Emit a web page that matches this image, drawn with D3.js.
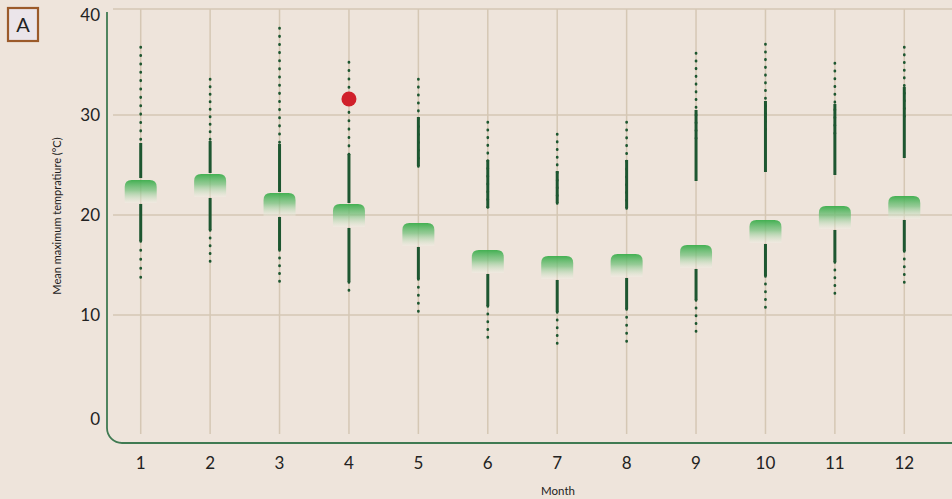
<!DOCTYPE html>
<html>
<head>
<meta charset="utf-8">
<script src="https://cdn.jsdelivr.net/npm/d3@7"></script>
<style>
  html, body { margin: 0; padding: 0; background: #eee4db; }
  svg { display: block; font-family: "Lato", "DejaVu Sans", sans-serif; }
</style>
</head>
<body>
<div id="chart"></div>
<script>
const months = [1, 2, 3, 4, 5, 6, 7, 8, 9, 10, 11, 12];
const yTicks = [0, 10, 20, 30, 40];

// top edge of the mean box for each month
const meanTop = [23.5, 24.1, 22.2, 21.1, 19.2, 16.5, 15.9, 16.1, 17.0, 19.5, 20.9, 21.9];
// upper dotted range
const upperDotTop = [36.8, 33.6, 38.7, 35.3, 33.6, 29.3, 28.1, 29.3, 36.2, 37.1, 35.2, 36.8];
const upperDotBottom = [27.6, 27.6, 27.3, 26.1, 24.9, 20.8, 21.2, 20.7, 27.7, 28.6, 28.2, 29.9];
// upper solid range
const upperSolidTop = [27.2, 27.4, 27.1, 26.1, 29.8, 25.5, 24.4, 25.5, 30.5, 31.4, 31.1, 32.8];
const upperSolidBottom = [23.7, 24.2, 22.3, 21.2, 24.9, 20.7, 21.2, 20.7, 23.4, 24.3, 24.0, 25.7];
// lower solid and dotted ends
const lowerSolidBottom = [17.4, 18.5, 16.5, 13.3, 13.6, 10.9, 10.3, 10.6, 11.5, 13.9, 15.3, 16.4];
const lowerDotBottom = [13.8, 15.4, 13.4, 12.5, 10.4, 7.8, 7.2, 7.4, 8.4, 10.8, 12.2, 13.3];

const highlightMonth = 4;
const highlightValue = 31.6;

const W = 952, H = 499;
const margin = { top: 15, right: 13, bottom: 84, left: 106 };
const boxW = 32, boxH = 23;

const data = months.map((m, i) => ({
  month: m,
  mean: meanTop[i],
  udTop: upperDotTop[i], udBot: upperDotBottom[i],
  usTop: upperSolidTop[i], usBot: upperSolidBottom[i],
  lsBot: lowerSolidBottom[i], ldBot: lowerDotBottom[i]
}));

const svg = d3.select("#chart").append("svg")
  .attr("width", W)
  .attr("height", H);

svg.append("rect").attr("width", W).attr("height", H).attr("fill", "#eee4db");

const x = d3.scaleBand()
  .domain(months)
  .range([margin.left, W - margin.right])
  .padding(0);

const y = d3.scaleLinear()
  .domain([0, 40])
  .range([H - margin.bottom, margin.top]);

const cx = m => x(m) + x.bandwidth() / 2;

// spread dots evenly so both ends get one
const dotDash = (a, b) => {
  const len = Math.abs(y(b) - y(a));
  const n = Math.max(1, Math.round(len / 8));
  const step = len / n;
  return `0.4 ${step - 0.4}`;
};

const defs = svg.append("defs");
const grad = defs.append("linearGradient")
  .attr("id", "boxGrad")
  .attr("x1", 0).attr("y1", 0).attr("x2", 0).attr("y2", 1);
grad.append("stop").attr("offset", "0%").attr("stop-color", "#3aad4b").attr("stop-opacity", 0.95);
grad.append("stop").attr("offset", "45%").attr("stop-color", "#77c27e").attr("stop-opacity", 0.75);
grad.append("stop").attr("offset", "100%").attr("stop-color", "#f3f1e8").attr("stop-opacity", 0.35);

const gridColor = "#d5c7b4";
const axisBottomY = 443;

// horizontal grid
svg.append("g")
  .selectAll("line")
  .data([10, 20, 30])
  .join("line")
  .attr("x1", 113).attr("x2", W)
  .attr("y1", d => y(d)).attr("y2", d => y(d))
  .attr("stroke", gridColor).attr("stroke-width", 1.5);

svg.append("line")
  .attr("x1", 113).attr("x2", W)
  .attr("y1", y(40.6)).attr("y2", y(40.6))
  .attr("stroke", gridColor).attr("stroke-width", 1.5);

// vertical grid
svg.append("g")
  .selectAll("line")
  .data(months)
  .join("line")
  .attr("x1", cx).attr("x2", cx)
  .attr("y1", y(40.6)).attr("y2", 434)
  .attr("stroke", gridColor).attr("stroke-width", 1.5);

// axis frame with rounded corner
const ax0 = 107, r = 15;
svg.append("path")
  .attr("d", `M${ax0},${y(40.3)} V${axisBottomY - r} A${r},${r} 0 0 0 ${ax0 + r},${axisBottomY} H${W}`)
  .attr("fill", "none")
  .attr("stroke", "#3f7a52")
  .attr("stroke-width", 1.8);

// y tick labels
svg.append("g")
  .selectAll("text")
  .data(yTicks)
  .join("text")
  .attr("x", 100)
  .attr("y", d => y(d))
  .attr("dy", d => d === 0 ? "0.6em" : "0.35em")
  .attr("text-anchor", "end")
  .attr("font-size", 17)
  .attr("fill", "#222")
  .text(d => d);

// x tick labels
svg.append("g")
  .selectAll("text")
  .data(months)
  .join("text")
  .attr("x", cx)
  .attr("y", 463)
  .attr("dy", "0.35em")
  .attr("text-anchor", "middle")
  .attr("font-size", 17)
  .attr("fill", "#222")
  .text(d => d);

svg.append("text")
  .attr("x", 558).attr("y", 491)
  .attr("dy", "0.35em")
  .attr("text-anchor", "middle")
  .attr("font-size", 11.5)
  .attr("fill", "#222")
  .text("Month");

svg.append("text")
  .attr("transform", `translate(57,${(y(0) + y(40)) / 2 + 1}) rotate(-90)`)
  .attr("dy", "0.35em")
  .attr("text-anchor", "middle")
  .attr("font-size", 11)
  .attr("fill", "#222")
  .text("Mean maximum tempratiure (°C)");

const lineColor = "#1d5630";
const marks = svg.append("g");

// dotted upper whiskers (line runs half a pixel past the end so the last dot shows)
marks.selectAll(".udot")
  .data(data)
  .join("line")
  .attr("class", "udot")
  .attr("x1", d => cx(d.month)).attr("x2", d => cx(d.month))
  .attr("y1", d => y(d.udTop)).attr("y2", d => y(d.udBot) + 0.5)
  .attr("stroke", lineColor).attr("stroke-width", 2.7)
  .attr("stroke-linecap", "round")
  .attr("stroke-dasharray", d => dotDash(d.udTop, d.udBot));

// solid upper ranges
marks.selectAll(".usol")
  .data(data)
  .join("line")
  .attr("class", "usol")
  .attr("x1", d => cx(d.month)).attr("x2", d => cx(d.month))
  .attr("y1", d => y(d.usTop)).attr("y2", d => y(d.usBot))
  .attr("stroke", lineColor).attr("stroke-width", 3);

// solid lower ranges, starting under the box
marks.selectAll(".lsol")
  .data(data)
  .join("line")
  .attr("class", "lsol")
  .attr("x1", d => cx(d.month)).attr("x2", d => cx(d.month))
  .attr("y1", d => y(d.mean) + boxH + 1).attr("y2", d => y(d.lsBot))
  .attr("stroke", lineColor).attr("stroke-width", 3);

// dotted lower whiskers
marks.selectAll(".ldot")
  .data(data)
  .join("line")
  .attr("class", "ldot")
  .attr("x1", d => cx(d.month)).attr("x2", d => cx(d.month))
  .attr("y1", d => y(d.lsBot)).attr("y2", d => y(d.ldBot) + 0.5)
  .attr("stroke", lineColor).attr("stroke-width", 2.7)
  .attr("stroke-linecap", "round")
  .attr("stroke-dasharray", d => dotDash(d.lsBot, d.ldBot));

// mean boxes, rounded on top
const rr = 7;
marks.selectAll(".box")
  .data(data)
  .join("path")
  .attr("class", "box")
  .attr("d", d => {
    const x0 = cx(d.month) - boxW / 2, x1 = x0 + boxW;
    const y0 = y(d.mean), y1 = y0 + boxH;
    return `M${x0},${y1} V${y0 + rr} Q${x0},${y0} ${x0 + rr},${y0} H${x1 - rr} Q${x1},${y0} ${x1},${y0 + rr} V${y1} Z`;
  })
  .attr("fill", "url(#boxGrad)");

// highlighted point
svg.append("circle")
  .attr("cx", cx(highlightMonth))
  .attr("cy", y(highlightValue))
  .attr("r", 7.5)
  .attr("fill", "#d0202b");

// panel letter
svg.append("rect")
  .attr("x", 8).attr("y", 8)
  .attr("width", 30).attr("height", 33)
  .attr("fill", "#ebe5ea")
  .attr("stroke", "#9b5a2a")
  .attr("stroke-width", 2.2);

svg.append("text")
  .attr("x", 23).attr("y", 25)
  .attr("dy", "0.35em")
  .attr("text-anchor", "middle")
  .attr("font-size", 20)
  .attr("fill", "#222")
  .text("A");
</script>
</body>
</html>
